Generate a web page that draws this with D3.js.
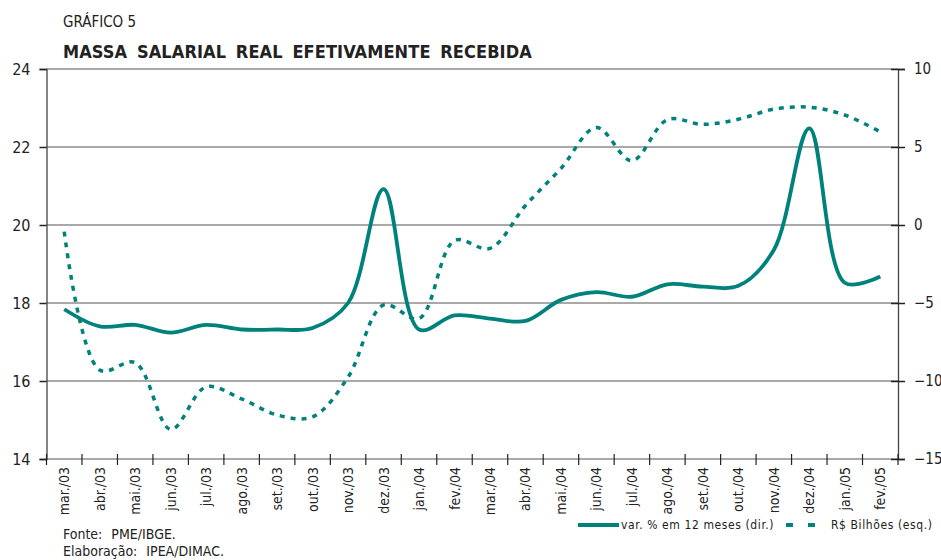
<!DOCTYPE html>
<meta charset="utf-8">
<script src="https://d3js.org/d3.v7.min.js"></script>
<style>
  body { margin: 0; background: #fff; }
  text { font-family: "DejaVu Sans Condensed", "Liberation Sans Narrow", sans-serif; fill: #222; }
</style>
<div id="chart"></div>
<script>

// month labels
var months = ["mar./03","abr./03","mai./03","jun./03","jul./03","ago./03","set./03","out./03","nov./03","dez./03",
              "jan./04","fev./04","mar./04","abr./04","mai./04","jun./04","jul./04","ago./04","set./04","out./04",
              "nov./04","dez./04","jan./05","fev./05"]

// var. % em 12 meses (right axis)
var varPct = [-5.4,-6.5,-6.4,-6.9,-6.4,-6.7,-6.7,-6.6,-5.0,2.3,
              -6.7,-5.8,-6.0,-6.15,-4.8,-4.3,-4.6,-3.8,-3.95,-3.9,
              -1.6,6.2,-3.7,-3.3]

// R$ bilhões (left axis)
var bilhoes = [19.83,16.28,16.47,14.76,15.85,15.54,15.13,15.08,16.1,17.95,
               17.6,19.6,19.4,20.5,21.45,22.5,21.65,22.7,22.58,22.71,
               22.97,23.02,22.82,22.39]

var leftTicks = [14,16,18,20,22,24]
var rightTicks = [-15,-10,-5,0,5,10]

var width = 941, height = 560
var teal = "#00827c"

var svg = d3.select("#chart").append("svg")
    .attr("width", width)
    .attr("height", height)

var x = d3.scaleBand().domain(months).range([46.5, 898])
var yL = d3.scaleLinear().domain([14, 24]).range([459, 69])
var yR = d3.scaleLinear().domain([-15, 10]).range([459, 69])

// titles
svg.append("text").attr("x", 63).attr("y", 27)
    .style("font-size", "15px").style("font-weight", 300)
    .text("GRÁFICO 5")
svg.append("text").attr("x", 63).attr("y", 58)
    .style("font-size", "18px").style("font-weight", "bold")
    .style("letter-spacing", "0.1px").style("word-spacing", "4px")
    .text("MASSA SALARIAL REAL EFETIVAMENTE RECEBIDA")

// horizontal gridlines
svg.selectAll(".grid").data(leftTicks).enter().append("line")
    .attr("x1", x.range()[0]).attr("x2", x.range()[1])
    .attr("y1", d => yL(d)).attr("y2", d => yL(d))
    .attr("stroke", "#555").attr("stroke-width", 1.2)

// left axis
var gL = svg.append("g").attr("transform", "translate(" + x.range()[0] + ",0)")
    .call(d3.axisLeft(yL).tickValues(leftTicks).tickSize(7).tickPadding(9))
gL.select(".domain").attr("stroke", "#444").attr("stroke-width", 1.3)
gL.selectAll(".tick line").attr("stroke", "#222").attr("stroke-width", 1.5)
gL.selectAll("text").style("font-size", "16px").attr("fill", "#222")

// right axis
var gR = svg.append("g").attr("transform", "translate(" + x.range()[1] + ",0)")
    .call(d3.axisRight(yR).tickValues(rightTicks).tickSize(7).tickPadding(9))
gR.select(".domain").attr("stroke", "#444").attr("stroke-width", 1.3)
gR.selectAll(".tick line").attr("x1", -7).attr("stroke", "#222").attr("stroke-width", 1.5)
gR.selectAll("text").style("font-size", "15px").attr("fill", "#222")

// bottom axis: ticks at month boundaries, labels at centres
var bounds = months.map(m => x(m)).concat([x.range()[1]])
svg.selectAll(".xtick").data(bounds).enter().append("line")
    .attr("x1", d => d).attr("x2", d => d)
    .attr("y1", 454).attr("y2", 465)
    .attr("stroke", "#222").attr("stroke-width", 1.2)

svg.selectAll(".xlab").data(months).enter().append("text")
    .attr("transform", d => "translate(" + (x(d) + x.bandwidth() / 2 + 5) + ",467) rotate(-90)")
    .attr("text-anchor", "end")
    .style("font-size", "14px")
    .text(d => d)

// lines
var lineL = d3.line()
    .x((d, i) => x(months[i]) + x.bandwidth() / 2)
    .y(d => yL(d))
    .curve(d3.curveCatmullRom.alpha(0.5))
var lineR = d3.line()
    .x((d, i) => x(months[i]) + x.bandwidth() / 2)
    .y(d => yR(d))
    .curve(d3.curveCatmullRom.alpha(0.5))

svg.append("path").datum(bilhoes)
    .attr("d", lineL)
    .attr("fill", "none").attr("stroke", teal)
    .attr("stroke-width", 3.5).attr("stroke-dasharray", "5,6")

svg.append("path").datum(varPct)
    .attr("d", lineR)
    .attr("fill", "none").attr("stroke", teal)
    .attr("stroke-width", 3.8).attr("stroke-linejoin", "round")

// legend
svg.append("line").attr("x1", 578).attr("x2", 619).attr("y1", 525).attr("y2", 525)
    .attr("stroke", teal).attr("stroke-width", 4)
svg.append("text").attr("x", 621).attr("y", 529)
    .style("font-size", "12px").style("letter-spacing", "0.6px")
    .text("var. % em  12 meses (dir.)")
svg.append("line").attr("x1", 786).attr("x2", 816).attr("y1", 525).attr("y2", 525)
    .attr("stroke", teal).attr("stroke-width", 4).attr("stroke-dasharray", "7,15")
svg.append("text").attr("x", 831).attr("y", 529)
    .style("font-size", "12px").style("letter-spacing", "0.6px")
    .text("R$ Bilhões (esq.)")

// source
svg.append("text").attr("x", 63).attr("y", 539)
    .style("font-size", "14px").style("word-spacing", "5px")
    .text("Fonte: PME/IBGE.")
svg.append("text").attr("x", 63).attr("y", 556)
    .style("font-size", "14px").style("word-spacing", "5px")
    .text("Elaboração: IPEA/DIMAC.")

</script>
